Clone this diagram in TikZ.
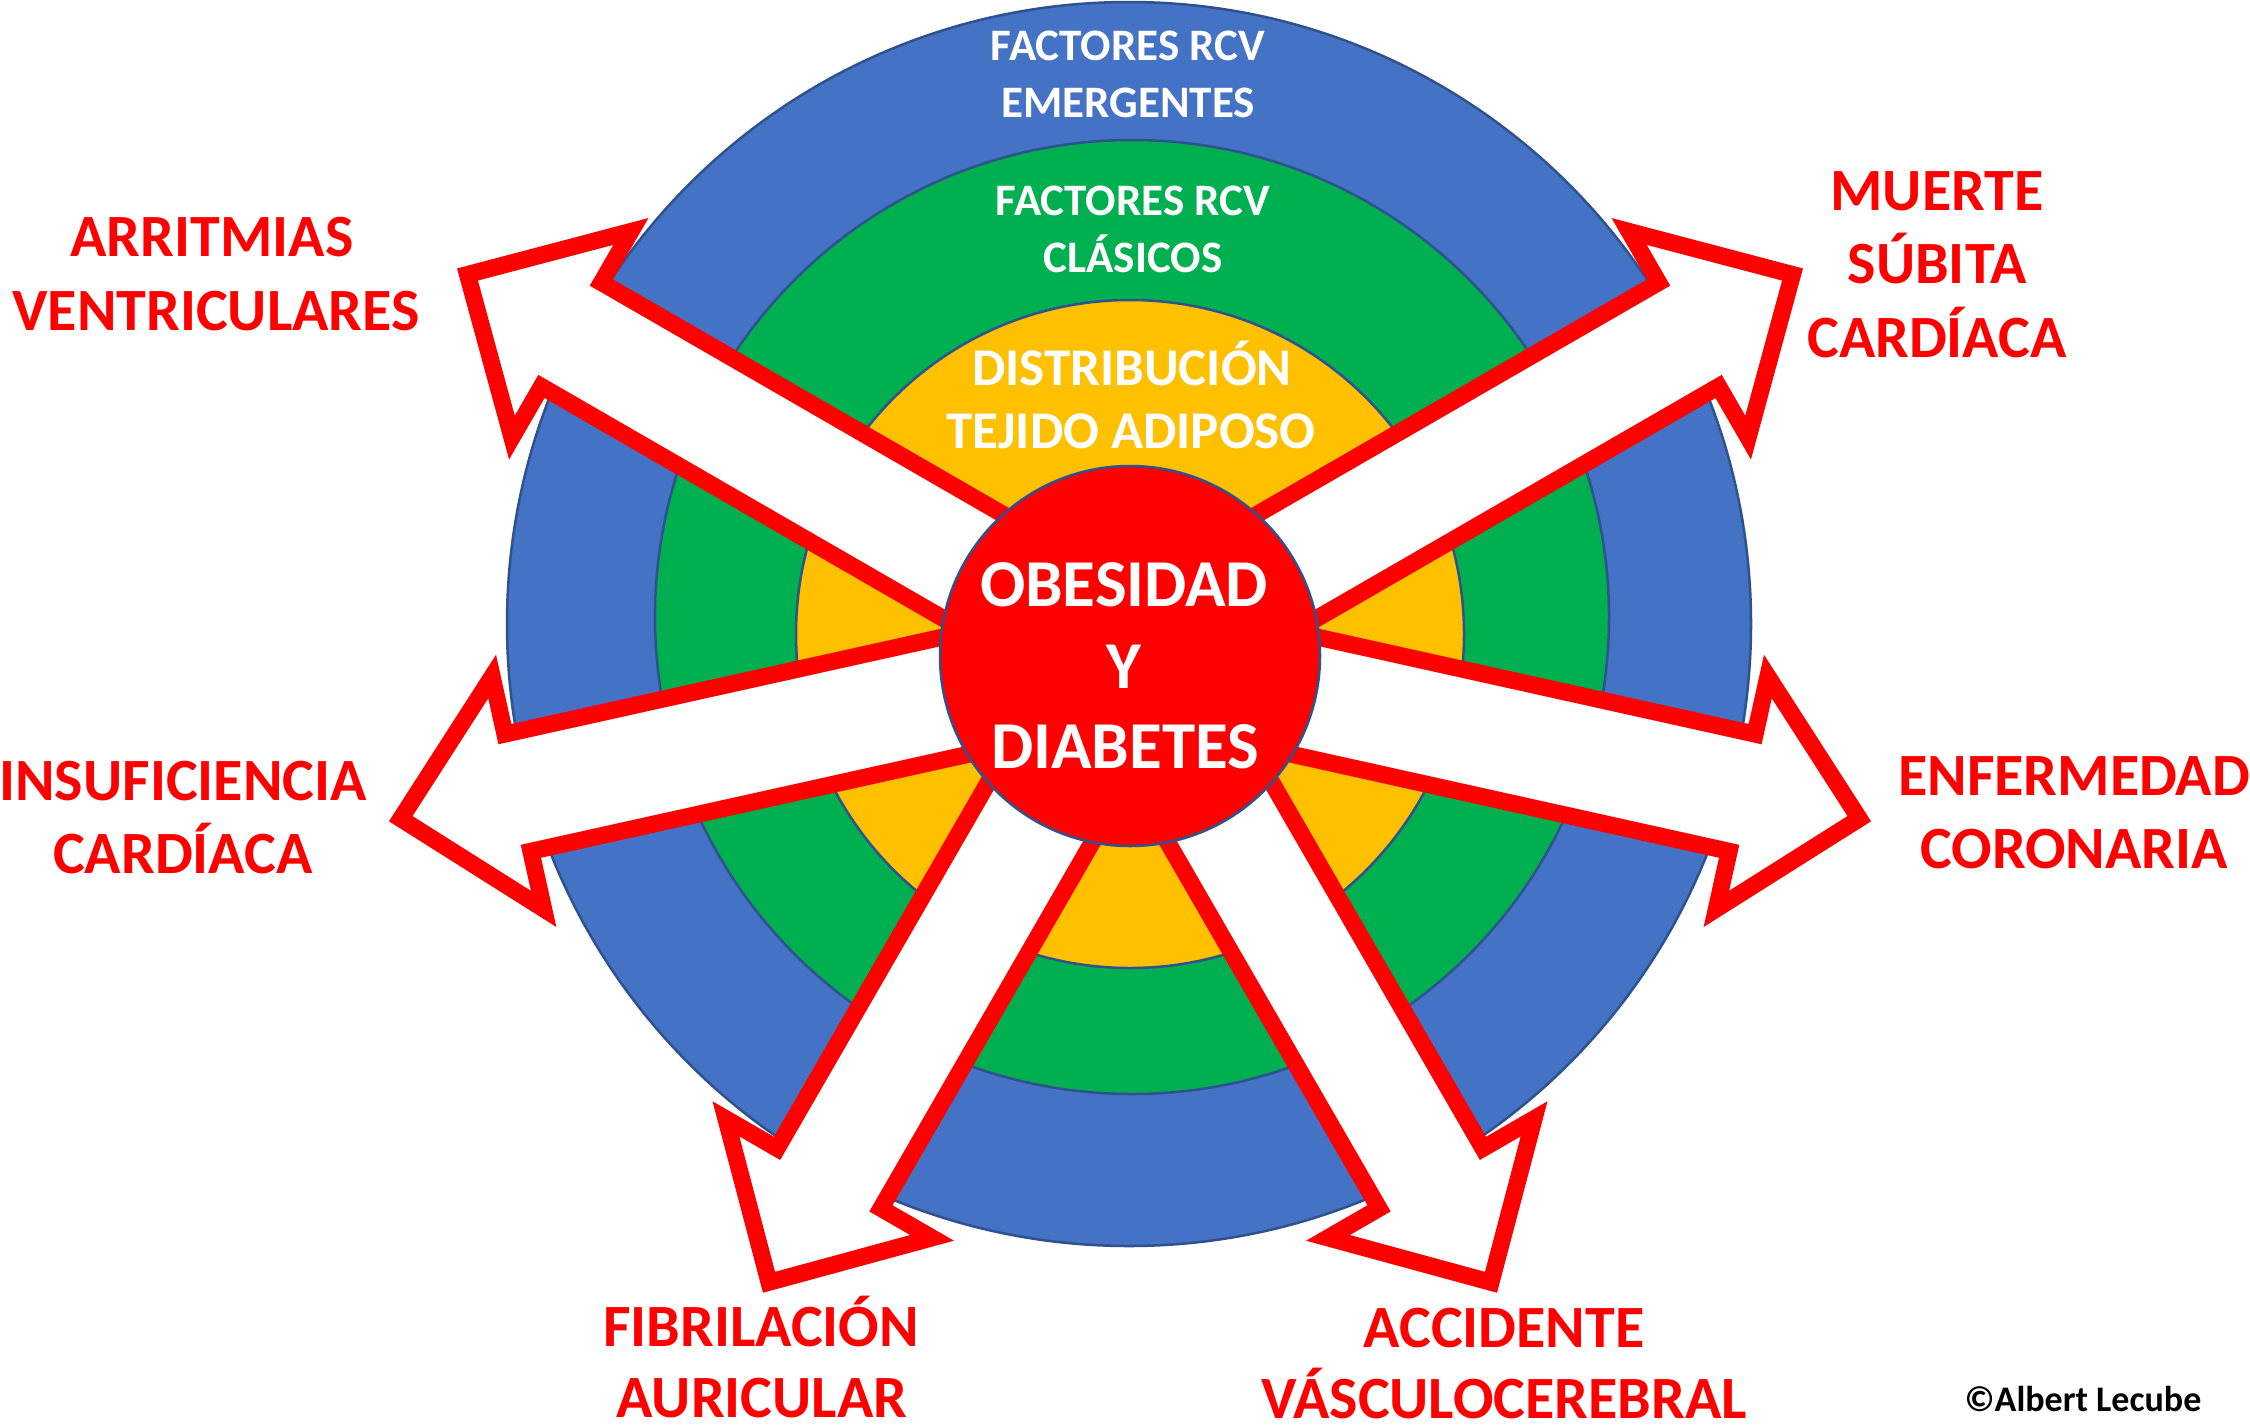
\documentclass[tikz,border=0pt]{standalone}
\usepackage{fontspec}
\setmainfont{Carlito}
\definecolor{blu}{HTML}{4472C4}
\definecolor{grn}{HTML}{00B050}
\definecolor{ylw}{HTML}{FFC000}
\definecolor{rd}{HTML}{FF0000}
\definecolor{ol}{HTML}{2F528F}
\newcommand\blockarrow[3]{%
  \draw[arr, shift={(1130,-657)}, rotate=#1]
    (0,-60) -- (#2,-60) -- (#2,-119) -- (#3,0) -- (#2,119) -- (#2,60) -- (0,60) -- cycle;}
\begin{document}
\begin{tikzpicture}[x=1pt,y=1pt,
  arr/.style={draw=rd, fill=white, line width=17pt, line join=miter, miter limit=10},
  ring/.style={draw=ol, line width=2.5pt},
  lbl/.style={text=rd, font=\fontsize{60}{72}\selectfont\bfseries, anchor=base, inner sep=0pt, text depth=0pt},
  wt/.style={text=white, anchor=base, inner sep=0pt},
  wsmall/.style={wt, font=\fontsize{45}{54}\selectfont\bfseries},
  wmid/.style={wt, font=\fontsize{53}{64}\selectfont\bfseries},
  wbig/.style={wt, font=\fontsize{67}{80}\selectfont\bfseries}]
\useasboundingbox (0,0) rectangle (2250,-1425);
\fill[white] (0,0) rectangle (2250,-1425);
% rings
\draw[ring, fill=blu] (1129,-624) circle (622);
\draw[ring, fill=grn] (1132,-617) circle (477);
\draw[ring, fill=ylw] (1130,-634) circle (334);
% arrows
\blockarrow{150}{645}{765}
\blockarrow{30}{645}{765}
\blockarrow{192.5}{627}{747}
\blockarrow{-12.5}{627}{747}
\blockarrow{240}{602}{722}
\blockarrow{-60}{602}{722}
% core
\node[circle, draw=ol, line width=2.5pt, fill=rd, minimum size=380pt, inner sep=0pt] (core) at (1130,-656) {};
% ring texts
\node[wsmall] (t1) at (1128,-60) {FACTORES RCV};
\node[wsmall] (t2) at (1128,-117) {EMERGENTES};
\node[wsmall] (t3) at (1133,-215) {FACTORES RCV};
\node[wsmall] (t4) at (1133,-272) {CLÁSICOS};
\node[wmid] (t5) at (1132,-385) {DISTRIBUCIÓN};
\node[wmid] (t6) at (1131,-448) {TEJIDO ADIPOSO};
\node[wbig] (o1) at (1124,-606) {OBESIDAD};
\node[wbig] (o2) at (1124,-688) {Y};
\node[wbig] (o3) at (1125,-768) {DIABETES};
% outer labels
\node[lbl] (a1) at (212,-256) {ARRITMIAS};
\node[lbl] (a2) at (216,-330) {VENTRICULARES};
\node[lbl] (m1) at (1937,-210) {MUERTE};
\node[lbl] (m2) at (1937,-283) {SÚBITA};
\node[lbl] (m3) at (1937,-357) {CARDÍACA};
\node[lbl] (i1) at (183,-800) {INSUFICIENCIA};
\node[lbl] (i2) at (183,-873) {CARDÍACA};
\node[lbl] (e1) at (2074,-795) {ENFERMEDAD};
\node[lbl] (e2) at (2074,-868) {CORONARIA};
\node[lbl] (f1) at (761,-1346) {FIBRILACIÓN};
\node[lbl] (f2) at (762,-1417) {AURICULAR};
\node[lbl] (c1) at (1504,-1347) {ACCIDENTE};
\node[lbl] (c2) at (1504,-1418) {VÁSCULOCEREBRAL};
\node[anchor=base, inner sep=0pt, font=\fontsize{36}{43}\selectfont\bfseries] (copy) at (2083,-1411) {©Albert Lecube};
\end{tikzpicture}
\end{document}
